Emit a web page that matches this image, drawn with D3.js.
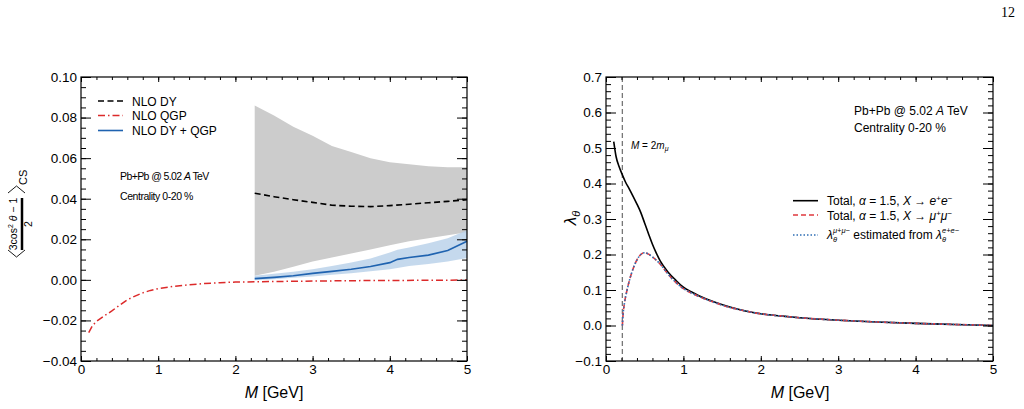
<!DOCTYPE html>
<html><head><meta charset="utf-8">
<script src="https://cdn.jsdelivr.net/npm/d3@7"></script>
<style>
body{margin:0;background:#fff;}
svg{display:block;font-family:"Liberation Sans",Arial,Helvetica,sans-serif;}
</style></head><body>
<svg id="c" width="1024" height="409"></svg>
<script>
// ---------------- data: left panel ----------------
const dyBandM   = [2.25,2.5,2.75,3.0,3.25,3.5,3.75,4.0,4.25,4.5,4.75,5.0];
const dyCentral = [0.0427,0.0410,0.0395,0.0382,0.0368,0.0363,0.0361,0.0366,0.0373,0.0380,0.0387,0.0395];
const dyUpper   = [0.086,0.081,0.0755,0.071,0.066,0.063,0.060,0.058,0.057,0.056,0.0555,0.0555];
const dyLower   = [0.002,0.004,0.0065,0.009,0.011,0.013,0.015,0.017,0.019,0.0205,0.022,0.0235];
const combM     = [2.25,2.5,2.75,3.0,3.25,3.5,3.75,4.0,4.1,4.25,4.5,4.75,5.0];
const combVal   = [0.0006,0.0012,0.002,0.0032,0.0042,0.0052,0.0066,0.0085,0.0101,0.011,0.0122,0.0145,0.019];
const combUpper = [0.002,0.003,0.004,0.0052,0.0068,0.0085,0.0105,0.0135,0.0148,0.016,0.018,0.0205,0.0245];
const combLower = [-0.0002,0.0003,0.001,0.0016,0.0025,0.0033,0.0043,0.0052,0.0058,0.0068,0.0078,0.009,0.0108];
const qgpM      = [0.1,0.15,0.2,0.3,0.4,0.5,0.6,0.7,0.8,0.9,1.0,1.2,1.4,1.6,1.8,2.0,2.5,3.0,3.5,4.0,4.5,5.0];
const qgpVal    = [-0.026,-0.0225,-0.0205,-0.0178,-0.0153,-0.0125,-0.0098,-0.008,-0.0064,-0.0052,-0.0043,-0.0032,-0.0024,-0.0018,-0.0014,-0.0011,-0.0008,-0.0006,-0.0004,-0.0003,-0.0002,-0.0001];
const leftLegend = ["NLO DY","NLO QGP","NLO DY + QGP"];

// ---------------- data: right panel ----------------
const eeM   = [0.1,0.13,0.17,0.21,0.25,0.3,0.35,0.4,0.45,0.5,0.55,0.6,0.65,0.7,0.8,0.9,1.0,1.1,1.2,1.4,1.6,1.8,2.0,2.25,2.5,3.0,3.5,4.0,4.5,5.0];
const eeVal = [0.518,0.476,0.447,0.425,0.405,0.385,0.364,0.342,0.318,0.288,0.258,0.229,0.204,0.182,0.151,0.128,0.108,0.095,0.084,0.066,0.052,0.041,0.033,0.027,0.022,0.015,0.010,0.006,0.003,0.0];
const muM   = [0.2113,0.22,0.24,0.27,0.3,0.35,0.4,0.45,0.5,0.55,0.6,0.7,0.8,0.9,1.0,1.1,1.2,1.4,1.6,1.8,2.0,2.25,2.5,3.0,3.5,4.0,4.5,5.0];
const muVal = [0.0,0.03,0.065,0.098,0.125,0.16,0.185,0.2,0.205,0.201,0.193,0.173,0.145,0.122,0.104,0.092,0.082,0.065,0.051,0.041,0.033,0.027,0.022,0.015,0.010,0.006,0.003,0.0];
const muEstVal = muVal.slice();
const muThreshold = [0.2113];

const xTicks = [0,1,2,3,4,5];
const leftYTicks  = [-4,-2,0,2,4,6,8,10].map(v=>v/100);
const rightYTicks = [-1,0,1,2,3,4,5,6,7].map(v=>v/10);

const svg = d3.select('#c');

// ---------------- scales ----------------
const xL = d3.scaleLinear().domain([0,5]).range([81,467]);
const yL = d3.scaleLinear().domain([-0.04,0.10]).range([361,77]);
const xR = d3.scaleLinear().domain([0,5]).range([606,993]);
const yR = d3.scaleLinear().domain([-0.1,0.7]).range([361,77]);

function drawAxes(x, y, yMajor, yMinor, yFmt){
  const [x0,x1]=x.range(), [y0,y1]=y.range();
  const xMinor = d3.range(0,26).map(v=>v/5);
  const add = (tr, ax) => {
    const g = svg.append('g').attr('transform',tr).call(ax);
    g.select('.domain').remove();
    g.attr('font-family',null).attr('font-size',13.5);
    g.selectAll('line').attr('stroke','#000');
    g.selectAll('text').attr('fill','#000');
    return g;
  };
  add(`translate(0,${y0})`, d3.axisBottom(x).tickValues(xMinor).tickSize(-3).tickFormat(''));
  add(`translate(0,${y0})`, d3.axisBottom(x).tickValues(xTicks).tickSize(-5).tickPadding(3).tickFormat(d3.format('d')));
  add(`translate(0,${y1})`, d3.axisTop(x).tickValues(xMinor).tickSize(-3).tickFormat(''));
  add(`translate(0,${y1})`, d3.axisTop(x).tickValues(xTicks).tickSize(-5).tickFormat(''));
  add(`translate(${x0},0)`, d3.axisLeft(y).tickValues(yMinor).tickSize(-5).tickFormat(''));
  add(`translate(${x0},0)`, d3.axisLeft(y).tickValues(yMajor).tickSize(-10).tickPadding(4).tickFormat(yFmt));
  add(`translate(${x1},0)`, d3.axisRight(y).tickValues(yMinor).tickSize(-5).tickFormat(''));
  add(`translate(${x1},0)`, d3.axisRight(y).tickValues(yMajor).tickSize(-10).tickFormat(''));
  svg.append('rect').attr('x',x0).attr('y',y1).attr('width',x1-x0).attr('height',y0-y1)
    .attr('fill','none').attr('stroke','#000').attr('stroke-width',1.2);
}

function richText(g, x, y, parts, size, anchor){
  const t = g.append('text').attr('x',x).attr('y',y).attr('font-size',size).attr('fill','#000');
  if(anchor) t.attr('text-anchor',anchor);
  let cur = 0;
  parts.forEach(p=>{
    const s = p.shift||0;
    const ts = t.append('tspan').text(p.t);
    if(s-cur!==0) ts.attr('dy', s-cur);
    cur = s;
    if(p.it) ts.attr('font-style','italic');
    if(p.fs) ts.attr('font-size',p.fs);
    if(p.dx) ts.attr('dx',p.dx);
  });
  return t;
}

// ---------------- left panel ----------------
const areaL = (M, lo, hi) => d3.area().x((d,i)=>xL(M[i])).y0((d,i)=>yL(lo[i])).y1((d,i)=>yL(hi[i]))(M);
const lineL = (M, V) => d3.line().x((d,i)=>xL(M[i])).y((d,i)=>yL(V[i]))(M);

svg.append('path').attr('d', areaL(dyBandM, dyLower, dyUpper)).attr('fill','#cccccc');
svg.append('path').attr('d', areaL(combM, combLower, combUpper)).attr('fill','#b7cfe8').attr('fill-opacity',0.8);
svg.append('path').attr('d', lineL(dyBandM, dyCentral)).attr('fill','none').attr('stroke','#000').attr('stroke-width',1.6).attr('stroke-dasharray','6,3.5');
svg.append('path').attr('d', lineL(combM, combVal)).attr('fill','none').attr('stroke','#1f63b0').attr('stroke-width',1.6);
svg.append('path').attr('d', lineL(qgpM, qgpVal)).attr('fill','none').attr('stroke','#dc2a2a').attr('stroke-width',1.5).attr('stroke-dasharray','7,3,1.5,3');

drawAxes(xL, yL, leftYTicks, d3.range(-8,21).map(v=>v/200), d3.format('.2f'));

// left legend
const legL = [{c:'#000',d:'6,3.5',w:1.6,y:101},{c:'#dc2a2a',d:'7,3,1.5,3',w:1.5,y:115.5},{c:'#1f63b0',d:null,w:1.6,y:130.5}];
legL.forEach((l,i)=>{
  const ln = svg.append('line').attr('x1',98).attr('x2',123).attr('y1',l.y).attr('y2',l.y).attr('stroke',l.c).attr('stroke-width',l.w);
  if(l.d) ln.attr('stroke-dasharray',l.d);
  svg.append('text').attr('x',132).attr('y',l.y+4.5).attr('font-size',12).text(leftLegend[i]);
});
// compact info text (left panel)
richText(svg,120,180,[{t:'Pb+Pb @ 5.02 '},{t:'A',it:1},{t:' TeV'}],10.5).attr('letter-spacing',-0.6);
svg.append('text').attr('x',120).attr('y',200).attr('font-size',10.5).attr('letter-spacing',-0.45).text('Centrality 0-20 %');

// left y label
const gy = svg.append('g').attr('transform','translate(20,215) rotate(-90)');
richText(gy,-9,-3,[{t:'3cos'},{t:'2',fs:7,shift:-4},{t:' '},{t:'θ',it:1},{t:' − 1'}],10.5,'middle');
gy.append('line').attr('x1',-35).attr('x2',17).attr('y1',2).attr('y2',2).attr('stroke','#000').attr('stroke-width',2.5);
gy.append('text').attr('x',-9).attr('y',12).attr('font-size',10.5).attr('text-anchor','middle').text('2');
gy.append('path').attr('d','M-35,-12L-42,-3.5L-35,5').attr('fill','none').attr('stroke','#000').attr('stroke-width',0.9);
gy.append('path').attr('d','M22,-12L29,-3.5L22,5').attr('fill','none').attr('stroke','#000').attr('stroke-width',0.9);
gy.append('text').attr('x',30).attr('y',7).attr('font-size',11).text('CS');

// left x label
richText(svg,274,398,[{t:'M',it:1},{t:' [GeV]'}],16,'middle');

// ---------------- right panel ----------------
const lineR = (M, V) => d3.line().curve(d3.curveMonotoneX).x((d,i)=>xR(M[i])).y((d,i)=>yR(V[i]))(M);
svg.selectAll('line.thr').data(muThreshold).enter().append('line').attr('class','thr')
  .attr('x1',d=>xR(d)).attr('x2',d=>xR(d)).attr('y1',yR(0.7)).attr('y2',yR(-0.1))
  .attr('stroke','#777').attr('stroke-width',1.3).attr('stroke-dasharray','5,3');
svg.append('path').attr('d', lineR(eeM, eeVal)).attr('fill','none').attr('stroke','#000').attr('stroke-width',1.6);
svg.append('path').attr('d', lineR(muM, muVal)).attr('fill','none').attr('stroke','#e0393e').attr('stroke-width',1.6).attr('stroke-dasharray','5,3');
svg.append('path').attr('d', lineR(muM, muEstVal)).attr('fill','none').attr('stroke','#2e6db4').attr('stroke-width',1.6).attr('stroke-dasharray','1.5,2');

drawAxes(xR, yR, rightYTicks, d3.range(-5,36).map(v=>v/50), d3.format('.1f'));

richText(svg,631,149,[{t:'M',it:1},{t:' = 2'},{t:'m',it:1},{t:'μ',it:1,fs:7,shift:2}],10);
richText(svg,854,115,[{t:'Pb+Pb @ 5.02 '},{t:'A',it:1},{t:' TeV'}],12);
svg.append('text').attr('x',854).attr('y',132).attr('font-size',12).text('Centrality 0-20 %');

// right legend
const legR = [{c:'#000',d:null,y:200.7},{c:'#e0393e',d:'5,3',y:215},{c:'#2e6db4',d:'1.5,2',y:235}];
legR.forEach(l=>{
  const ln = svg.append('line').attr('x1',793).attr('x2',818).attr('y1',l.y).attr('y2',l.y).attr('stroke',l.c).attr('stroke-width',1.6);
  if(l.d) ln.attr('stroke-dasharray',l.d);
});
richText(svg,827,205,[{t:'Total, '},{t:'α',it:1},{t:' = 1.5, '},{t:'X',it:1},{t:' → '},{t:'e',it:1},{t:'+',fs:8,shift:-4},{t:'e',it:1},{t:'−',fs:8,shift:-4}],12);
richText(svg,827,219.5,[{t:'Total, '},{t:'α',it:1},{t:' = 1.5, '},{t:'X',it:1},{t:' → '},{t:'μ',it:1},{t:'+',fs:8,shift:-4},{t:'μ',it:1},{t:'−',fs:8,shift:-4}],12);
richText(svg,827,239,[{t:'λ',it:1},{t:'θ',it:1,fs:7.5,shift:3},{t:'μ+μ−',it:1,fs:7.5,shift:-6,dx:-4},{t:'  estimated from '},{t:'λ',it:1},{t:'θ',it:1,fs:7.5,shift:3},{t:'e+e−',it:1,fs:7.5,shift:-6,dx:-4}],12);

// right y label
const gy2 = svg.append('g').attr('transform','translate(576,218) rotate(-90)');
richText(gy2,0,0,[{t:'λ',it:1},{t:'θ',it:1,fs:11,shift:4}],17,'middle');

// right x label
richText(svg,800,398,[{t:'M',it:1},{t:' [GeV]'}],16,'middle');

// page number
svg.append('text').attr('x',1015).attr('y',17).attr('text-anchor','end').attr('font-family','"Liberation Serif","DejaVu Serif",serif').attr('font-size',14).text('12');
</script>
</body></html>
